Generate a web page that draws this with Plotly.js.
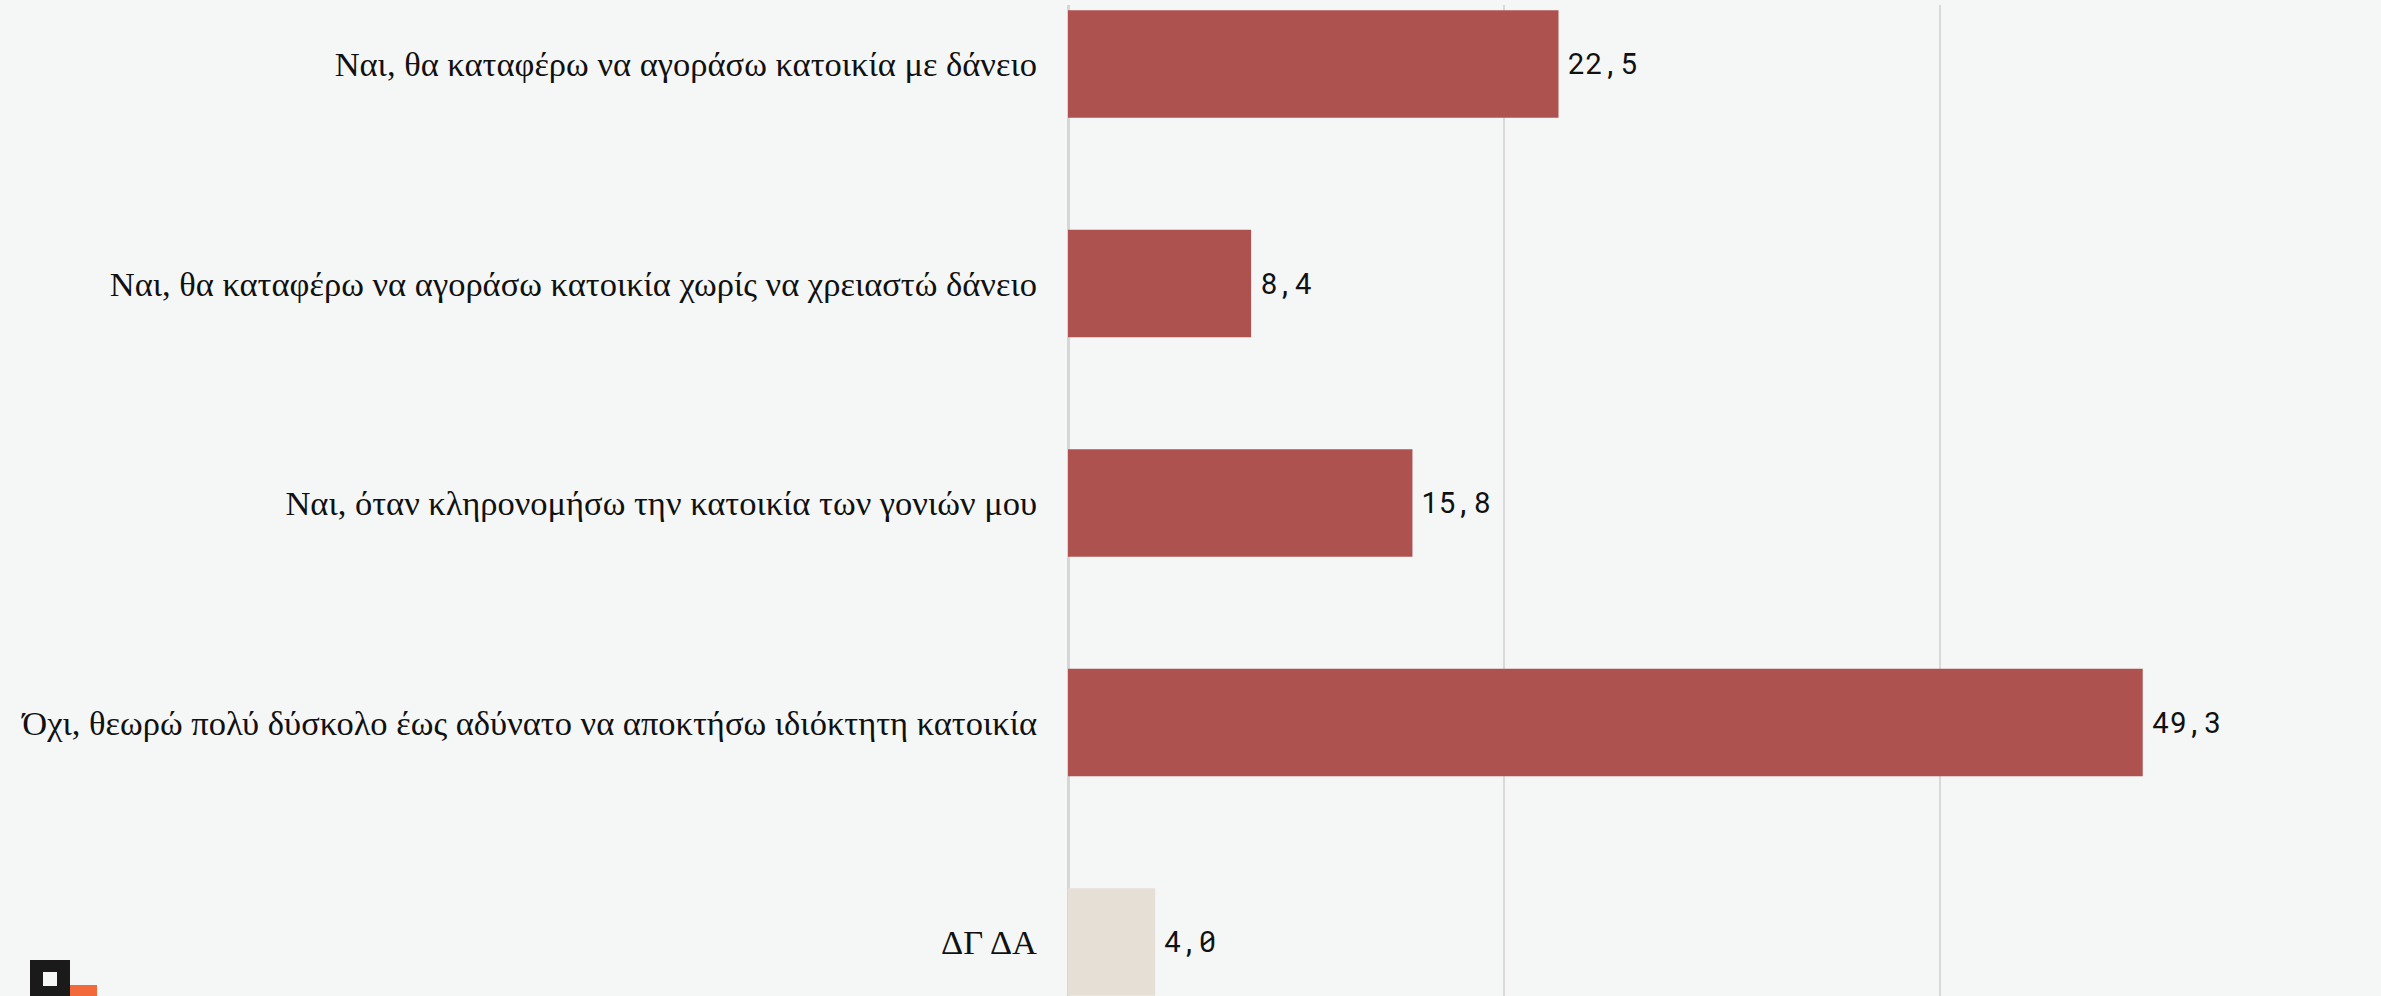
<!DOCTYPE html>
<html>
<head>
<meta charset="utf-8">
<script src="https://cdn.plot.ly/plotly-3.0.1.min.js"></script>
<style>
  html, body { margin: 0; padding: 0; background: #f5f7f6; }
  #chart { width: 2381px; height: 996px; }
</style>
</head>
<body>
<div id="chart"></div>
<script>
const categories = [
  "Ναι, θα καταφέρω να αγοράσω κατοικία με δάνειο",
  "Ναι, θα καταφέρω να αγοράσω κατοικία χωρίς να χρειαστώ δάνειο",
  "Ναι, όταν κληρονομήσω την κατοικία των γονιών μου",
  "Όχι, θεωρώ πολύ δύσκολο έως αδύνατο να αποκτήσω ιδιόκτητη κατοικία",
  "ΔΓ ΔΑ"
];
const values = [22.5, 8.4, 15.8, 49.3, 4.0];
const barColors = ["#ae5250", "#ae5250", "#ae5250", "#ae5250", "#e6dfd6"];
const xTicks = [0, 20, 40, 60];

const W = 2381, H = 996;
const mL = 1068, mR = 5, mT = 5, mB = 0;
const plotW = W - mL - mR;
const plotH = H - mT - mB;
const px2paperX = px => (px - mL) / plotW;
const px2paperY = py => 1 - (py - mT) / plotH;

const labels = values.map(v => v.toFixed(1).replace('.', ','));

const trace = {
  type: 'bar',
  orientation: 'h',
  x: values,
  y: categories,
  width: 0.49,
  marker: { color: barColors },
  hoverinfo: 'none'
};

const annotations = values.map((v, i) => ({
  x: v, y: categories[i], xref: 'x', yref: 'y',
  text: labels[i], showarrow: false,
  xanchor: 'left', yanchor: 'middle', xshift: 7, yshift: 1,
  font: { family: '"Roboto Mono", "DejaVu Sans Mono", monospace', size: 29, color: '#111111' }
}));

const layout = {
  width: W, height: H,
  margin: { l: mL, r: mR, t: mT, b: mB, pad: 0 },
  paper_bgcolor: '#f5f7f6',
  plot_bgcolor: '#f5f7f6',
  showlegend: false,
  xaxis: {
    range: [0, 60],
    tickvals: xTicks,
    showticklabels: false,
    showgrid: true,
    gridcolor: '#d9d9d9',
    gridwidth: 2,
    zeroline: true,
    zerolinecolor: '#d6d6d6',
    zerolinewidth: 3,
    showline: false,
    fixedrange: true,
    automargin: false
  },
  yaxis: {
    type: 'category',
    range: [4.246, -0.269],
    showgrid: false,
    zeroline: false,
    showline: false,
    ticks: '',
    ticklabelstandoff: 30,
    tickfont: { family: '"Liberation Serif", "DejaVu Serif", serif', size: 34.5, color: '#111111' },
    automargin: false,
    fixedrange: true
  },
  annotations: annotations,
  shapes: [
    { type: 'rect', xref: 'paper', yref: 'paper', layer: 'above',
      x0: px2paperX(30), x1: px2paperX(70), y0: px2paperY(1010), y1: px2paperY(960),
      fillcolor: '#1a1a1a', line: { width: 0 } },
    { type: 'rect', xref: 'paper', yref: 'paper', layer: 'above',
      x0: px2paperX(43), x1: px2paperX(57), y0: px2paperY(986), y1: px2paperY(972),
      fillcolor: '#f5f7f6', line: { width: 0 } },
    { type: 'rect', xref: 'paper', yref: 'paper', layer: 'above',
      x0: px2paperX(70), x1: px2paperX(97), y0: px2paperY(1010), y1: px2paperY(985),
      fillcolor: '#f26a3c', line: { width: 0 } }
  ]
};

Plotly.newPlot('chart', [trace], layout, { displayModeBar: false, staticPlot: true });
</script>
</body>
</html>
